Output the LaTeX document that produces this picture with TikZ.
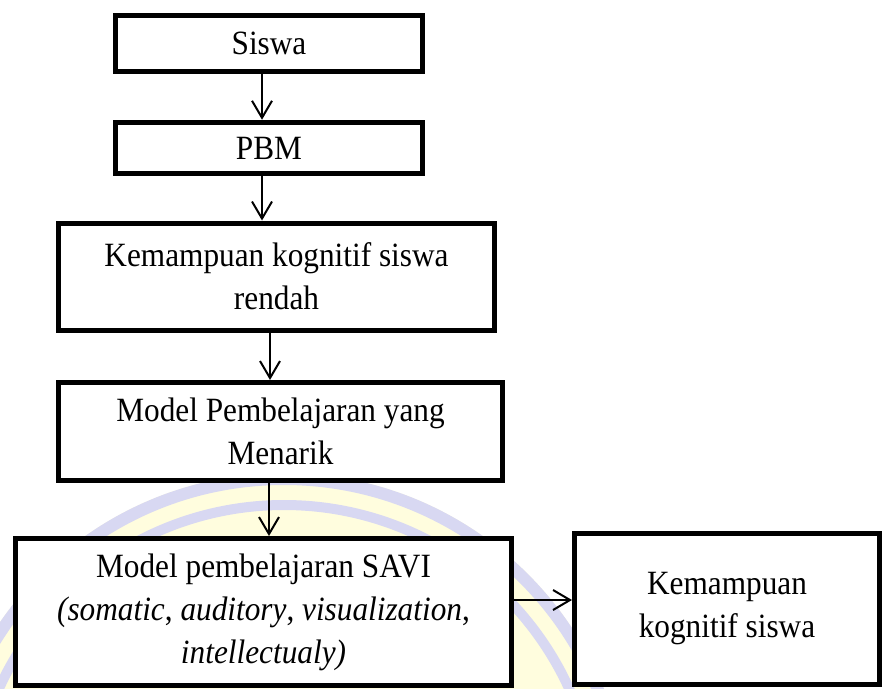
\documentclass[tikz,border=0pt]{standalone}
\usepackage{fontspec}
\setmainfont[FakeStretch=0.92]{Liberation Serif}
\usetikzlibrary{arrows.meta}
\definecolor{wmyellow}{RGB}{255,253,222}
\definecolor{wmpurple}{RGB}{216,216,242}
\begin{document}
\begin{tikzpicture}[x=1pt,y=-1pt,
  box/.style={draw, line width=5pt, fill=white, rectangle, align=center, inner sep=0pt,
    font=\fontsize{34}{43}\selectfont},
  arr/.style={line width=2pt, -{Straight Barb[length=17pt,width=20pt]}}]
\useasboundingbox (0,0) rectangle (882,688);
% faint watermark
\begin{scope}
  \clip (0,0) rectangle (882,688);
  \fill[wmyellow] (284,818) circle[radius=345pt];
  \draw[wmpurple, line width=12pt] (284,818) circle[radius=339pt];
  \draw[wmpurple, line width=10pt] (284,818) circle[radius=313pt];
\end{scope}
% boxes
\node[box, minimum width=307pt, minimum height=56.5pt] (siswa) at (269,43.5) {Siswa};
\node[box, minimum width=307pt, minimum height=51.5pt] (pbm) at (269,148) {PBM};
\node[box, minimum width=436pt, minimum height=107pt] (rendah) at (276.5,276.5) {Kemampuan kognitif siswa\\rendah};
\node[box, minimum width=444pt, minimum height=98pt] (menarik) at (280.5,431.5) {Model Pembelajaran yang\\Menarik};
\node[box, minimum width=496pt, minimum height=147pt] (savi) at (263.5,612) {Model pembelajaran SAVI\\\textit{(somatic}, \textit{auditory}, \textit{visualization},\\\textit{intellectualy)}};
\node[box, minimum width=305pt, minimum height=151pt] (hasil) at (727,608.5) {Kemampuan\\kognitif siswa};
% arrow guide coordinates
\coordinate (ax1) at (262,0);
\coordinate (ax3) at (270,0);
\coordinate (ax4) at (269,0);
\coordinate (ay5) at (0,600);
% connectors
\draw[arr] (siswa.south -| ax1) -- (pbm.north -| ax1);
\draw[arr] (pbm.south -| ax1) -- (rendah.north -| ax1);
\draw[arr] (rendah.south -| ax3) -- (menarik.north -| ax3);
\draw[arr] (menarik.south -| ax4) -- (savi.north -| ax4);
\draw[arr] (savi.east |- ay5) -- (hasil.west |- ay5);
\end{tikzpicture}
\end{document}
